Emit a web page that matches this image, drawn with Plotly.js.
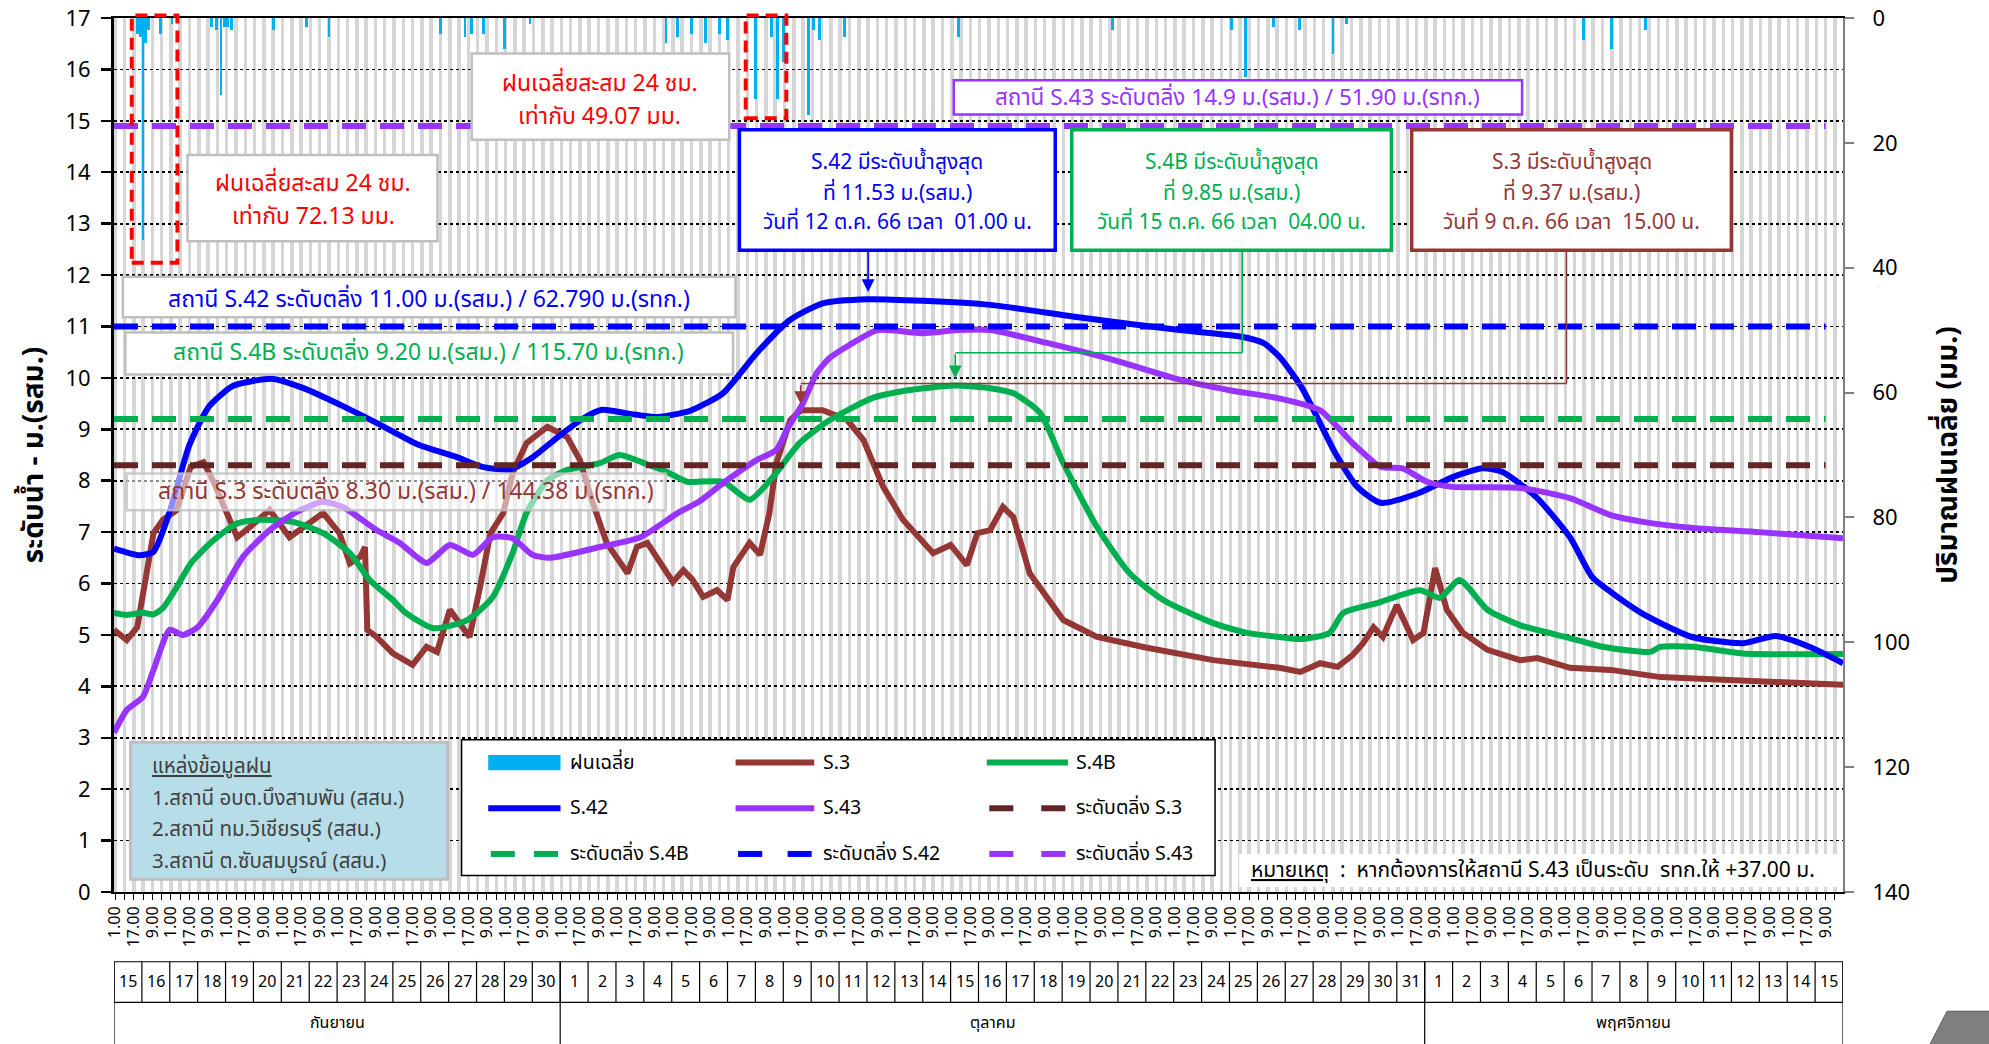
<!DOCTYPE html>
<html><head><meta charset="utf-8">
<script src="https://cdn.plot.ly/plotly-3.0.1.min.js"></script>
<style>html,body{margin:0;padding:0;background:#fff;overflow:hidden}</style>
</head><body><div id="chart" style="width:1989px;height:1044px"></div>
<script>
// ---------------- DATA ----------------
const s42Times = ['2023-09-15 00:00','2023-09-15 22:00','2023-09-16 10:00','2023-09-17 00:00','2023-09-17 17:00','2023-09-18 10:00','2023-09-19 07:00','2023-09-20 17:00','2023-09-21 19:00','2023-09-23 05:00','2023-09-24 12:00','2023-09-25 22:00','2023-09-27 07:00','2023-09-28 05:00','2023-09-29 05:00','2023-09-30 00:00','2023-09-30 22:00','2023-10-01 19:00','2023-10-02 12:00','2023-10-03 12:00','2023-10-04 12:00','2023-10-05 05:00','2023-10-05 16:00','2023-10-06 20:00','2023-10-08 01:00','2023-10-09 06:00','2023-10-10 10:00','2023-10-12 01:00','2023-10-14 00:00','2023-10-16 10:00','2023-10-19 14:00','2023-10-23 05:00','2023-10-25 10:00','2023-10-26 05:00','2023-10-26 19:00','2023-10-27 14:00','2023-10-28 19:00','2023-10-29 14:00','2023-10-30 10:00','2023-10-31 19:00','2023-11-02 00:00','2023-11-03 02:00','2023-11-03 19:00','2023-11-05 00:00','2023-11-06 05:00','2023-11-07 00:00','2023-11-07 14:00','2023-11-08 19:00','2023-11-10 14:00','2023-11-12 10:00','2023-11-13 14:00','2023-11-14 19:00','2023-11-16 00:00'];
const s42Level = [6.68,6.55,6.62,7.40,8.70,9.45,9.85,9.98,9.80,9.45,9.10,8.70,8.46,8.27,8.22,8.45,8.85,9.20,9.38,9.30,9.24,9.30,9.36,9.70,10.48,11.13,11.45,11.53,11.50,11.42,11.18,10.93,10.80,10.68,10.41,9.82,8.54,7.88,7.57,7.76,8.07,8.24,8.17,7.68,6.90,6.13,5.87,5.42,4.96,4.84,4.98,4.77,4.45];

const s43Times = ['2023-09-15 00:00','2023-09-15 11:00','2023-09-16 01:00','2023-09-16 10:00','2023-09-17 00:00','2023-09-17 11:00','2023-09-18 00:00','2023-09-18 17:00','2023-09-19 15:00','2023-09-20 14:00','2023-09-21 13:00','2023-09-22 12:00','2023-09-23 05:00','2023-09-24 10:00','2023-09-25 06:00','2023-09-26 05:00','2023-09-27 01:00','2023-09-27 21:00','2023-09-28 14:00','2023-09-29 07:00','2023-09-30 00:00','2023-09-30 15:00','2023-10-02 10:00','2023-10-03 21:00','2023-10-05 05:00','2023-10-06 00:00','2023-10-06 20:00','2023-10-08 01:00','2023-10-08 18:00','2023-10-09 03:00','2023-10-09 17:00','2023-10-10 05:00','2023-10-10 16:00','2023-10-11 09:00','2023-10-12 09:00','2023-10-14 00:00','2023-10-15 06:00','2023-10-16 10:00','2023-10-18 11:00','2023-10-20 20:00','2023-10-23 06:00','2023-10-25 00:00','2023-10-26 19:00','2023-10-28 06:00','2023-10-29 10:00','2023-10-30 10:00','2023-10-31 05:00','2023-11-01 02:00','2023-11-02 00:00','2023-11-04 10:00','2023-11-06 05:00','2023-11-07 16:00','2023-11-08 20:00','2023-11-10 15:00','2023-11-13 00:00','2023-11-16 00:00'];
const s43Level = [3.10,3.54,3.80,4.32,5.10,5.00,5.15,5.68,6.52,7.04,7.39,7.59,7.49,7.04,6.79,6.40,6.75,6.56,6.90,6.88,6.56,6.50,6.71,6.90,7.37,7.60,7.95,8.40,8.60,8.99,9.51,10.10,10.39,10.64,10.93,10.87,10.93,10.93,10.68,10.35,9.96,9.76,9.60,9.37,8.73,8.27,8.24,7.98,7.88,7.86,7.66,7.33,7.20,7.08,7.00,6.88];

const s4bTimes = ['2023-09-15 00:00','2023-09-15 11:00','2023-09-16 01:00','2023-09-16 10:00','2023-09-16 18:00','2023-09-17 06:00','2023-09-17 18:00','2023-09-18 11:00','2023-09-19 10:00','2023-09-20 06:00','2023-09-21 10:00','2023-09-22 12:00','2023-09-23 11:00','2023-09-24 04:00','2023-09-25 00:00','2023-09-25 10:00','2023-09-26 11:00','2023-09-27 16:00','2023-09-28 14:00','2023-09-29 07:00','2023-09-29 19:00','2023-09-30 13:00','2023-10-01 06:00','2023-10-02 10:00','2023-10-03 03:00','2023-10-04 05:00','2023-10-04 20:00','2023-10-05 13:00','2023-10-06 20:00','2023-10-07 19:00','2023-10-08 15:00','2023-10-09 14:00','2023-10-10 16:00','2023-10-12 05:00','2023-10-13 11:00','2023-10-15 04:00','2023-10-16 10:00','2023-10-17 06:00','2023-10-18 05:00','2023-10-19 01:00','2023-10-20 06:00','2023-10-21 10:00','2023-10-22 15:00','2023-10-24 10:00','2023-10-25 15:00','2023-10-26 19:00','2023-10-27 13:00','2023-10-28 14:00','2023-10-29 02:00','2023-10-30 07:00','2023-10-31 20:00','2023-11-01 13:00','2023-11-02 06:00','2023-11-03 06:00','2023-11-04 10:00','2023-11-06 05:00','2023-11-07 09:00','2023-11-09 02:00','2023-11-09 11:00','2023-11-10 15:00','2023-11-12 10:00','2023-11-16 00:00'];
const s4bLevel = [5.43,5.39,5.43,5.40,5.52,5.93,6.39,6.79,7.17,7.24,7.20,6.98,6.59,6.07,5.68,5.45,5.13,5.29,5.74,6.59,7.37,8.01,8.21,8.34,8.50,8.30,8.17,7.98,7.98,7.63,8.07,8.73,9.18,9.61,9.76,9.85,9.80,9.70,9.32,8.34,7.10,6.20,5.68,5.23,5.04,4.96,4.92,5.04,5.43,5.62,5.87,5.72,6.07,5.49,5.19,4.94,4.77,4.67,4.77,4.77,4.64,4.63];

const s3Times = ['2023-09-15 00:00','2023-09-15 11:00','2023-09-15 20:00','2023-09-16 01:00','2023-09-16 10:00','2023-09-16 18:00','2023-09-17 06:00','2023-09-17 18:00','2023-09-18 05:00','2023-09-18 13:00','2023-09-19 01:00','2023-09-19 10:00','2023-09-19 21:00','2023-09-20 14:00','2023-09-21 07:00','2023-09-21 19:00','2023-09-22 12:00','2023-09-23 02:00','2023-09-23 11:00','2023-09-23 20:00','2023-09-24 00:00','2023-09-24 02:00','2023-09-24 10:00','2023-09-25 00:00','2023-09-25 17:00','2023-09-26 05:00','2023-09-26 14:00','2023-09-27 01:00','2023-09-27 10:00','2023-09-27 18:00','2023-09-28 03:00','2023-09-28 12:00','2023-09-28 23:00','2023-09-29 07:00','2023-09-29 19:00','2023-09-30 13:00','2023-10-01 06:00','2023-10-01 17:00','2023-10-02 04:00','2023-10-02 16:00','2023-10-03 10:00','2023-10-03 18:00','2023-10-04 03:00','2023-10-04 14:00','2023-10-05 01:00','2023-10-05 10:00','2023-10-05 18:00','2023-10-06 03:00','2023-10-06 15:00','2023-10-07 00:00','2023-10-07 05:00','2023-10-07 19:00','2023-10-08 04:00','2023-10-08 12:00','2023-10-08 18:00','2023-10-09 06:00','2023-10-09 15:00','2023-10-10 10:00','2023-10-11 07:00','2023-10-11 21:00','2023-10-12 14:00','2023-10-13 07:00','2023-10-14 09:00','2023-10-15 00:00','2023-10-15 14:00','2023-10-15 23:00','2023-10-16 10:00','2023-10-16 21:00','2023-10-17 06:00','2023-10-17 20:00','2023-10-18 11:00','2023-10-19 01:00','2023-10-20 06:00','2023-10-22 01:00','2023-10-24 10:00','2023-10-26 19:00','2023-10-27 13:00','2023-10-28 06:00','2023-10-28 21:00','2023-10-29 10:00','2023-10-29 19:00','2023-10-30 04:00','2023-10-30 12:00','2023-10-31 00:00','2023-10-31 14:00','2023-10-31 23:00','2023-11-01 09:00','2023-11-01 19:00','2023-11-02 09:00','2023-11-03 06:00','2023-11-04 10:00','2023-11-05 01:00','2023-11-06 05:00','2023-11-07 16:00','2023-11-09 11:00','2023-11-11 20:00','2023-11-16 00:00'];
const s3Level = [5.10,4.90,5.15,5.80,6.98,7.24,7.43,8.27,8.36,8.01,7.37,6.90,7.10,7.43,6.90,7.10,7.37,6.98,6.39,6.52,6.71,5.10,4.96,4.64,4.42,4.77,4.67,5.49,5.23,4.96,5.93,6.98,7.37,8.15,8.73,9.05,8.85,8.40,7.57,6.79,6.20,6.71,6.79,6.40,6.03,6.26,6.07,5.74,5.87,5.68,6.32,6.79,6.56,7.37,8.34,9.18,9.37,9.37,9.18,8.79,7.88,7.24,6.59,6.75,6.36,6.98,7.04,7.49,7.29,6.20,5.74,5.29,4.96,4.75,4.51,4.36,4.28,4.45,4.38,4.61,4.84,5.15,4.96,5.58,4.90,5.04,6.30,5.49,5.04,4.71,4.51,4.55,4.36,4.32,4.18,4.12,4.03];

const rainTimes = ['2023-09-15 20:00','2023-09-15 23:00','2023-09-16 01:00','2023-09-16 03:00','2023-09-16 06:00','2023-09-16 16:00','2023-09-17 02:00','2023-09-18 12:00','2023-09-18 16:00','2023-09-18 20:00','2023-09-18 23:00','2023-09-19 02:00','2023-09-19 05:00','2023-09-20 17:00','2023-09-21 22:00','2023-09-22 17:00','2023-09-26 17:00','2023-09-27 14:00','2023-09-27 20:00','2023-09-28 06:00','2023-09-29 00:00','2023-09-29 22:00','2023-10-04 19:00','2023-10-05 05:00','2023-10-05 17:00','2023-10-06 05:00','2023-10-06 17:00','2023-10-07 00:00','2023-10-08 00:00','2023-10-08 14:00','2023-10-08 19:00','2023-10-09 00:00','2023-10-09 22:00','2023-10-10 02:00','2023-10-10 07:00','2023-10-11 05:00','2023-10-15 07:00','2023-10-20 19:00','2023-10-25 02:00','2023-10-25 14:00','2023-10-26 14:00','2023-10-27 12:00','2023-10-28 17:00','2023-10-29 05:00','2023-11-06 17:00','2023-11-07 17:00','2023-11-08 22:00'];
const rainMM = [2.5,3,35.5,4,2,2.5,1,1.5,2,12.3,1.5,1.5,2,2,1.5,3,2.5,3,2.5,2.5,5,1,4,3,2.5,4,2.5,3.5,13,3,13,7,15.5,2,3.5,3,3,2,2,9.4,1.5,2,5.7,1,3.5,5,2];

// bank-full (threshold) levels
const bankNames = ['ระดับตลิ่ง S.3','ระดับตลิ่ง S.4B','ระดับตลิ่ง S.42','ระดับตลิ่ง S.43'];
const bankLevels = [8.30, 9.20, 11.00, 14.9];
const bankSpan = ['2023-09-15 00:00','2023-11-15 09:00'];

// peak annotations
const peakStations = ['S.42','S.4B','S.3'];
const peakDates = ['2023-10-12 01:00','2023-10-15 04:00','2023-10-09 15:00'];
const peakValues = [11.53, 9.85, 9.37];
const peakText = [
  ['S.42 มีระดับน้ำสูงสุด','ที่ 11.53 ม.(รสม.)','วันที่ 12 ต.ค. 66 เวลา  01.00 น.'],
  ['S.4B มีระดับน้ำสูงสุด','ที่ 9.85 ม.(รสม.)','วันที่ 15 ต.ค. 66 เวลา  04.00 น.'],
  ['S.3 มีระดับน้ำสูงสุด','ที่ 9.37 ม.(รสม.)','วันที่ 9 ต.ค. 66 เวลา  15.00 น.']
];
const bankText = [
  'สถานี S.3 ระดับตลิ่ง 8.30 ม.(รสม.) / 144.38 ม.(รทก.)',
  'สถานี S.4B ระดับตลิ่ง 9.20 ม.(รสม.) / 115.70 ม.(รทก.)',
  'สถานี S.42 ระดับตลิ่ง 11.00 ม.(รสม.) / 62.790 ม.(รทก.)',
  'สถานี S.43 ระดับตลิ่ง 14.9 ม.(รสม.) / 51.90 ม.(รทก.)'
];
const rain24Text = [['ฝนเฉลี่ยสะสม 24 ชม.','เท่ากับ 72.13 มม.'],['ฝนเฉลี่ยสะสม 24 ชม.','เท่ากับ 49.07 มม.']];
const sourceText = ['แหล่งข้อมูลฝน','1.สถานี อบต.บึงสามพัน (สสน.)','2.สถานี ทม.วิเชียรบุรี (สสน.)','3.สถานี ต.ซับสมบูรณ์ (สสน.)'];
const noteText = '<u>หมายเหตุ</u>  :  หากต้องการให้สถานี S.43 เป็นระดับ  รทก.ให้ +37.00 ม.';
const legendNames = ['ฝนเฉลี่ย','S.3','S.4B','S.42','S.43','ระดับตลิ่ง S.3','ระดับตลิ่ง S.4B','ระดับตลิ่ง S.42','ระดับตลิ่ง S.43'];

// day table
const sepDays = ['15','16','17','18','19','20','21','22','23','24','25','26','27','28','29','30'];
const octDays = ['1','2','3','4','5','6','7','8','9','10','11','12','13','14','15','16','17','18','19','20','21','22','23','24','25','26','27','28','29','30','31'];
const novDays = ['1','2','3','4','5','6','7','8','9','10','11','12','13','14','15'];
const monthNames = ['กันยายน','ตุลาคม','พฤศจิกายน'];
const monthEdges = ['2023-09-15','2023-10-01','2023-11-01','2023-11-16'];

// ---------------- STYLE ----------------
const FONT = "Tahoma, 'Noto Sans Thai', 'Noto Sans', 'DejaVu Sans', sans-serif";
const C3 = '#953735', C4B = '#00b050', C42 = '#0000ff', C43 = '#9933ff', CB3 = '#632523', CRAIN = '#00b0f0';
const bankColors = [CB3, C4B, C42, C43];
const peakColors = [C42, C4B, C3];

// reference-pixel helpers (positions only)
const P = xs => (xs - 90) / 1363;
const Q = ys => (703 - ys) / 689;
const DAY = 86400000;
const startMs = Date.UTC(2023, 8, 15);
const dstr = ms => new Date(ms).toISOString().slice(0, 16).replace('T', ' ');

// ---------------- TRACES ----------------
const LW = 6;
const traces = [];
traces.push({type:'bar', x: rainTimes, y: rainMM, yaxis:'y2', marker:{color:CRAIN, line:{width:0}}, width: 2.4*3600000, showlegend:false, name:'ฝนเฉลี่ย'});
traces.push({type:'scatter', mode:'lines', x:s3Times, y:s3Level, name:'S.3', line:{color:C3, width:LW}, showlegend:false});
traces.push({type:'scatter', mode:'lines', x:s4bTimes, y:s4bLevel, name:'S.4B', line:{color:C4B, width:LW, shape:'spline', smoothing:0.6}, showlegend:false});
traces.push({type:'scatter', mode:'lines', x:s42Times, y:s42Level, name:'S.42', line:{color:C42, width:LW, shape:'spline', smoothing:0.6}, showlegend:false});
traces.push({type:'scatter', mode:'lines', x:s43Times, y:s43Level, name:'S.43', line:{color:C43, width:LW, shape:'spline', smoothing:0.6}, showlegend:false});
bankLevels.forEach((v, i) => {
  traces.push({type:'scatter', mode:'lines', x: bankSpan, y:[v, v], name: bankNames[i], line:{color: bankColors[i], width:6, dash:'24px,14px'}, showlegend:false});
});

// ---------------- SHAPES & ANNOTATIONS ----------------
const shapes = [];
const ann = [];
function box(x0, x1, y0, y1, line, fill, lw, dash) {
  shapes.push({type:'rect', xref:'paper', yref:'paper', x0:P(x0), x1:P(x1), y0:Q(y1), y1:Q(y0), layer:'above',
    line:{color:line, width:lw||2.5, dash:dash||'solid'}, fillcolor: fill});
}
function txt(xs, ys, t, color, size, anchor, extra) {
  ann.push(Object.assign({xref:'paper', yref:'paper', x:P(xs), y:Q(ys), text:t, showarrow:false,
    xanchor: anchor||'center', yanchor:'middle', font:{family:FONT, size:size, color:color}}, extra||{}));
}

// red dashed rain boxes
box(104, 140, 12, 207, '#ff0000', 'rgba(0,0,0,0)', 4, '12px,7px');
box(588, 620, 12, 93, '#ff0000', 'rgba(0,0,0,0)', 4, '12px,7px');
// rain 24h boxes
box(148, 345, 122, 190, '#bfbfbf', '#ffffff', 2.5);
txt(247, 145, rain24Text[0][0], '#ff0000', 23); txt(247, 171, rain24Text[0][1], '#ff0000', 23);
box(372, 575, 42, 110, '#bfbfbf', '#ffffff', 2.5);
txt(473, 66, rain24Text[1][0], '#ff0000', 23); txt(473, 92, rain24Text[1][1], '#ff0000', 23);
// S.43 bank box
box(752, 1200, 63, 90, C43, '#ffffff', 2.5);
txt(976, 77, bankText[3], C43, 22.5);
// peak boxes
const peakBoxX = [[583, 832], [845, 1097], [1113, 1365]];
peakBoxX.forEach((bx, i) => {
  box(bx[0], bx[1], 102, 197, peakColors[i], '#ffffff', 3.5);
  const cx = (bx[0] + bx[1]) / 2;
  txt(cx, 128, peakText[i][0], peakColors[i], 21);
  txt(cx, 152, peakText[i][1], peakColors[i], 21);
  txt(cx, 175, peakText[i][2], peakColors[i], 21);
});
// bank text boxes S.42, S.4B, S.3
box(97, 580, 218, 250, '#bfbfbf', '#ffffff', 2.5);
txt(338, 236, bankText[2], C42, 23);
box(99, 578, 262, 295, '#bfbfbf', '#ffffff', 2.5);
txt(338, 278, bankText[1], C4B, 23);
box(100, 525, 373, 402, 'rgba(191,191,191,0.8)', 'rgba(255,255,255,0.55)', 2.5);
txt(320, 388, bankText[0], C3, 23);

// connectors & arrows to peaks
const boxBottomV = (703 - 197) / 40.53;
// S.42: straight arrow
ann.push({xref:'x', yref:'y', axref:'x', ayref:'y', x:peakDates[0], y:peakValues[0]+0.14, ax:peakDates[0], ay:boxBottomV,
  text:'', showarrow:true, arrowhead:2, arrowsize:1.6, arrowwidth:1.6, arrowcolor:C42});
// S.4B: elbow
const g4x = '2023-10-25 11:00', g4y = 10.49;
shapes.push({type:'line', xref:'x', yref:'y', x0:g4x, x1:g4x, y0:boxBottomV, y1:g4y, line:{color:C4B, width:1.6}, layer:'above'});
shapes.push({type:'line', xref:'x', yref:'y', x0:g4x, x1:peakDates[1], y0:g4y, y1:g4y, line:{color:C4B, width:1.6}, layer:'above'});
ann.push({xref:'x', yref:'y', axref:'x', ayref:'y', x:peakDates[1], y:peakValues[1]+0.14, ax:peakDates[1], ay:g4y,
  text:'', showarrow:true, arrowhead:2, arrowsize:1.6, arrowwidth:1.6, arrowcolor:C4B});
// S.3: elbow
const g3x = '2023-11-06 02:00', g3y = 9.89;
shapes.push({type:'line', xref:'x', yref:'y', x0:g3x, x1:g3x, y0:boxBottomV, y1:g3y, line:{color:C3, width:1.6}, layer:'above'});
shapes.push({type:'line', xref:'x', yref:'y', x0:g3x, x1:peakDates[2], y0:g3y, y1:g3y, line:{color:C3, width:1.6}, layer:'above'});
ann.push({xref:'x', yref:'y', axref:'x', ayref:'y', x:peakDates[2], y:peakValues[2]+0.12, ax:peakDates[2], ay:g3y,
  text:'', showarrow:true, arrowhead:2, arrowsize:1.6, arrowwidth:1.6, arrowcolor:C3});

// rain source box
box(103, 353, 585, 693, '#bfbfbf', '#b7dee8', 3);
txt(118, 604, '<u>' + sourceText[0] + '</u>', '#404040', 20.5, 'left');
txt(118, 629, sourceText[1], '#404040', 20.5, 'left');
txt(118, 654, sourceText[2], '#404040', 20.5, 'left');
txt(118, 679, sourceText[3], '#404040', 20.5, 'left');

// legend box (manual, 3 x 3 grid)
box(364, 958, 583, 690, '#000000', '#ffffff', 1.5);
const legCols = [[385, 442, 448], [580, 642, 647], [778, 842, 847]];
const legRows = [601, 637, 673];
const legStyle = [
  {kind:'bar', color:CRAIN}, {kind:'solid', color:C3}, {kind:'solid', color:C4B},
  {kind:'solid', color:C42}, {kind:'solid', color:C43}, {kind:'dash', color:CB3},
  {kind:'dash', color:C4B}, {kind:'dash', color:C42}, {kind:'dash', color:C43}
];
legendNames.forEach((name, i) => {
  const c = legCols[i % 3], ry = legRows[Math.floor(i / 3)], st = legStyle[i];
  if (st.kind === 'bar') {
    shapes.push({type:'rect', xref:'paper', yref:'paper', x0:P(c[0]), x1:P(c[1]), y0:Q(ry+6), y1:Q(ry-6), fillcolor:st.color, line:{width:0}, layer:'above'});
  } else if (st.kind === 'solid') {
    shapes.push({type:'line', xref:'paper', yref:'paper', x0:P(c[0]), x1:P(c[1]), y0:Q(ry), y1:Q(ry), line:{color:st.color, width:6}, layer:'above'});
  } else {
    shapes.push({type:'line', xref:'paper', yref:'paper', x0:P(c[0]+2), x1:P(c[0]+21), y0:Q(ry), y1:Q(ry), line:{color:st.color, width:6}, layer:'above'});
    shapes.push({type:'line', xref:'paper', yref:'paper', x0:P(c[1]-21), x1:P(c[1]-2), y0:Q(ry), y1:Q(ry), line:{color:st.color, width:6}, layer:'above'});
  }
  txt(c[2], ry, name, '#000000', 19.5, 'left');
});

// note box
box(977, 1450, 673, 699, 'rgba(0,0,0,0)', '#ffffff', 0);
txt(985, 686, noteText, '#000000', 21, 'left');

// day table below the axis
const allDays = sepDays.concat(octDays, novDays);
const yTop = Q(758), yMid = Q(790), yBot = Q(830);
const endMs = startMs + allDays.length * DAY;
shapes.push({type:'line', xref:'x', yref:'paper', x0:dstr(startMs), x1:dstr(endMs), y0:yTop, y1:yTop, line:{color:'#000', width:1.2}});
shapes.push({type:'line', xref:'x', yref:'paper', x0:dstr(startMs), x1:dstr(endMs), y0:yMid, y1:yMid, line:{color:'#000', width:1.2}});
for (let i = 0; i <= allDays.length; i++) {
  const t = dstr(startMs + i * DAY);
  shapes.push({type:'line', xref:'x', yref:'paper', x0:t, x1:t, y0:yTop, y1:yMid, line:{color:'#000', width:1.2}});
}
allDays.forEach((d, i) => {
  ann.push({xref:'x', yref:'paper', x:dstr(startMs + i * DAY + DAY / 2), y:(yTop + yMid) / 2, text:d, showarrow:false,
    xanchor:'center', yanchor:'middle', font:{family:FONT, size:16, color:'#000'}});
});
monthEdges.forEach(e => {
  shapes.push({type:'line', xref:'x', yref:'paper', x0:e, x1:e, y0:yTop, y1:yBot, line:{color:'#000', width:1.2}});
});
monthNames.forEach((m, i) => {
  const a = Date.parse(monthEdges[i] + 'T00:00:00Z'), b = Date.parse(monthEdges[i + 1] + 'T00:00:00Z');
  ann.push({xref:'x', yref:'paper', x:dstr((a + b) / 2), y:Q(806), text:m, showarrow:false,
    xanchor:'center', yanchor:'middle', font:{family:FONT, size:16, color:'#000'}});
});

// grey corner mark (bottom right)
shapes.push({type:'path', xref:'paper', yref:'paper', path:`M ${P(1535)} ${Q(797)} L ${P(1575)} ${Q(797)} L ${P(1575)} ${Q(830)} L ${P(1518)} ${Q(830)} Z`,
  fillcolor:'#7f7f7f', line:{color:'#595959', width:1}});

// ---------------- LAYOUT ----------------
const layout = {
  width:1989, height:1044,
  margin:{l:114, r:146, t:18, b:152},
  paper_bgcolor:'#ffffff', plot_bgcolor:'#ffffff',
  font:{family:FONT, color:'#000'},
  showlegend:false,
  bargap:0,
  xaxis:{
    type:'date', range:['2023-09-15 00:00','2023-11-16 00:00'],
    tick0:'2023-09-15 01:00', dtick:16*3600000, tickformat:'%-H.%M', tickangle:-90,
    tickfont:{family:FONT, size:16, color:'#000'},
    ticks:'outside', ticklen:6, tickcolor:'#000', tickwidth:1,
    showgrid:true, gridcolor:'#d6d6d6', gridwidth:3.5,
    minor:{tick0:'2023-09-15 01:00', dtick:8*3600000, showgrid:true, gridcolor:'#d6d6d6', gridwidth:3.5, ticks:'outside', ticklen:6, tickcolor:'#000'},
    showline:true, linecolor:'#000', linewidth:2, mirror:true, zeroline:false, fixedrange:true
  },
  yaxis:{
    range:[0,17], dtick:1, tick0:0,
    showgrid:true, gridcolor:'#000', griddash:'dot', gridwidth:1.8,
    showline:true, linecolor:'#000', linewidth:3,
    ticks:'outside', ticklen:10, tickwidth:2.5, tickcolor:'#000',
    tickfont:{family:FONT, size:22, color:'#000'}, ticklabelstandoff:6,
    zeroline:false,
    title:{text:'<b>ระดับน้ำ - ม.(รสม.)</b>', font:{family:FONT, size:28, color:'#000'}, standoff:14}
  },
  yaxis2:{
    overlaying:'y', side:'right', range:[140,0], dtick:20,
    showgrid:false, zeroline:false,
    showline:true, linecolor:'#808080', linewidth:2,
    ticks:'outside', ticklen:9, tickwidth:2, tickcolor:'#808080',
    tickfont:{family:FONT, size:22, color:'#000'}, ticklabelstandoff:14,
    title:{text:'<b>ปริมาณฝนเฉลี่ย (มม.)</b>', font:{family:FONT, size:28, color:'#000'}, standoff:28}
  },
  shapes:shapes,
  annotations:ann
};

Plotly.newPlot('chart', traces, layout, {displayModeBar:false, staticPlot:true});
</script>
</body></html>
